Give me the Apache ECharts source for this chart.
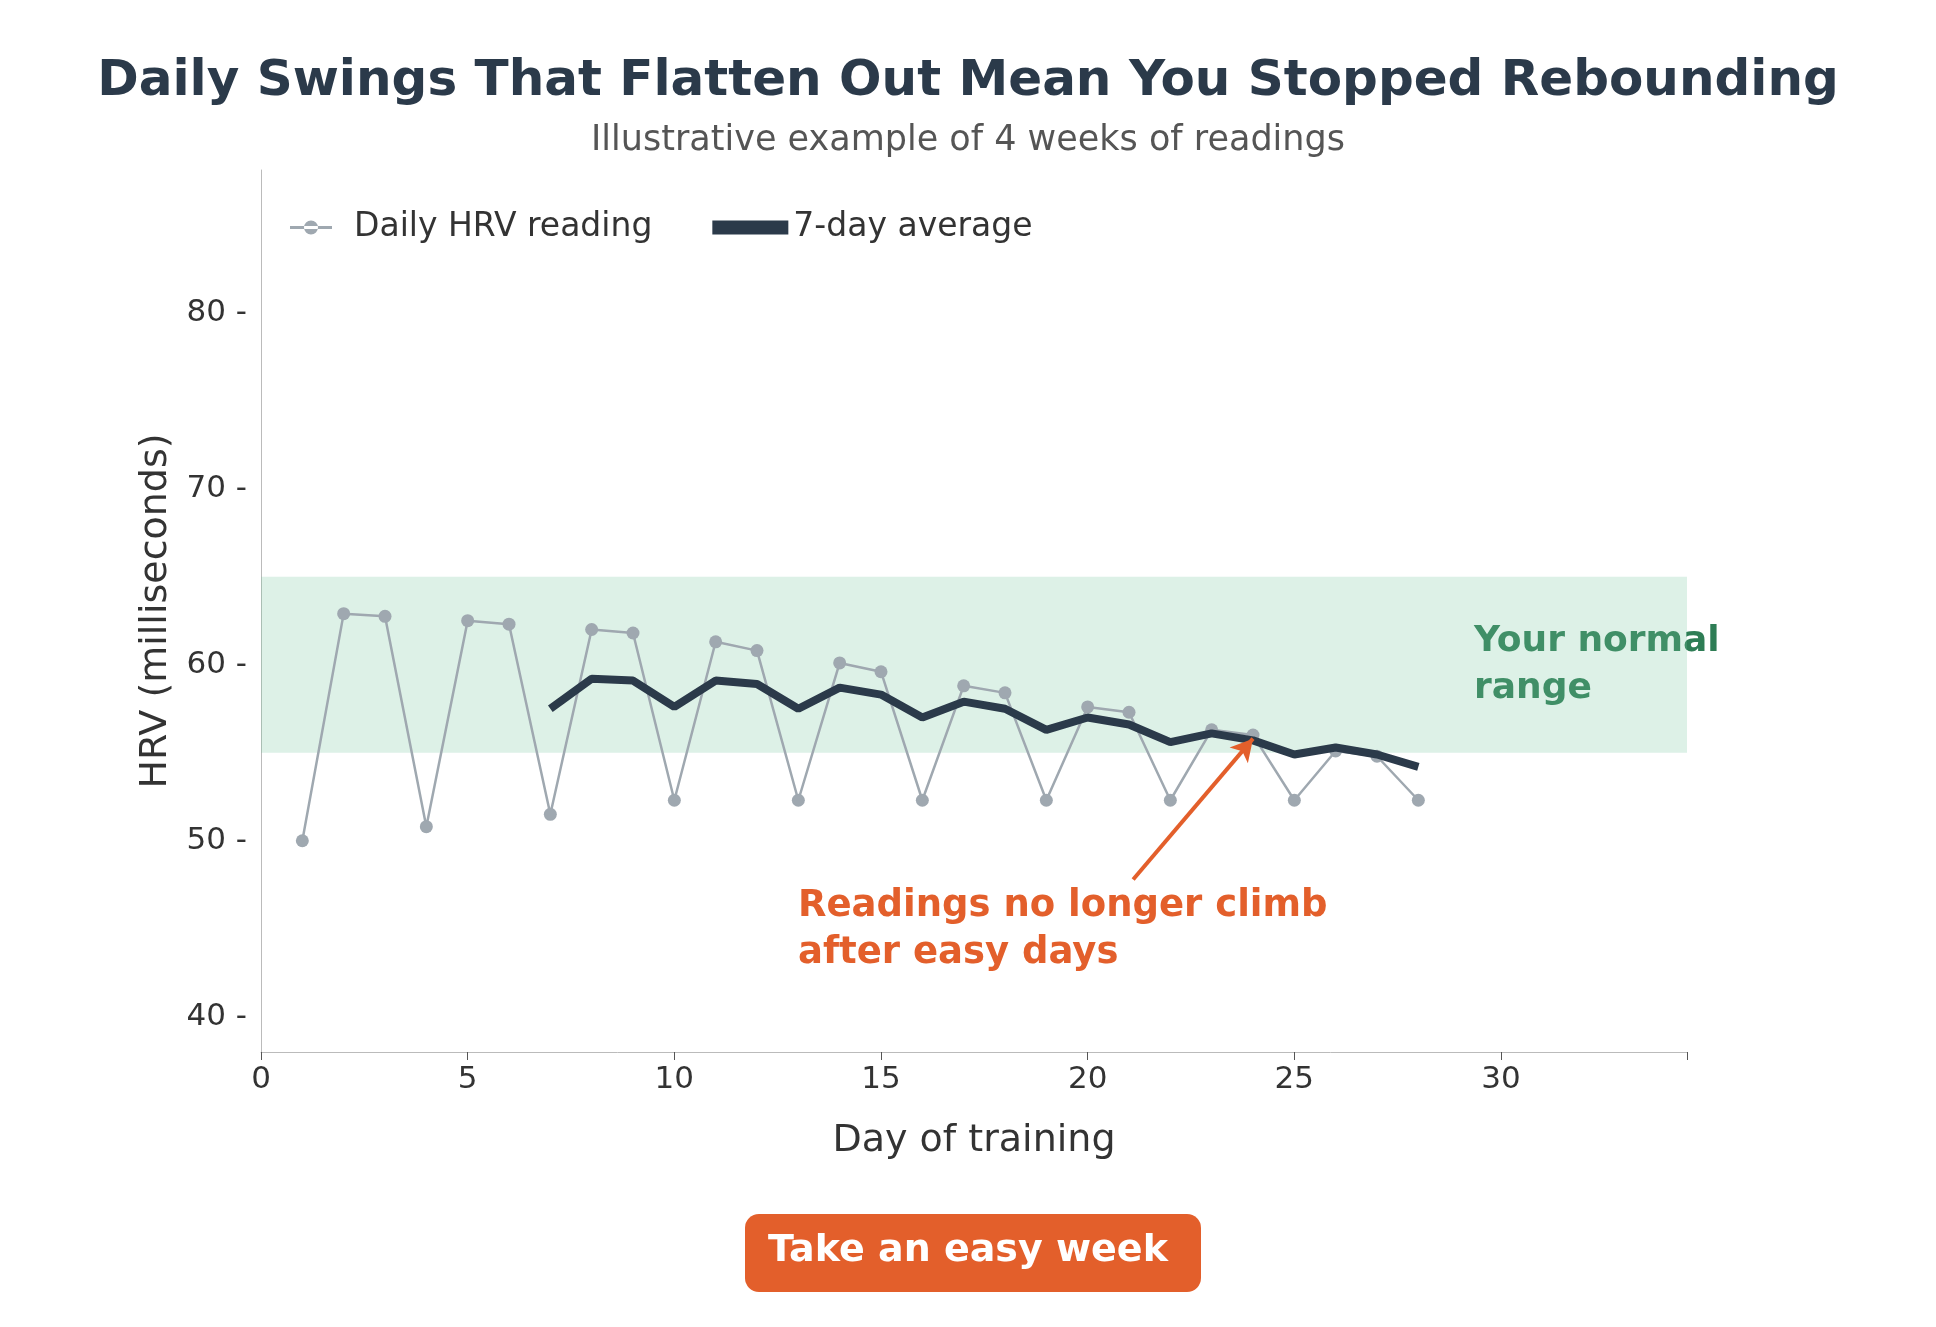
<!DOCTYPE html>
<html><head><meta charset="utf-8">
<script src="https://cdn.jsdelivr.net/npm/echarts@6/dist/echarts.min.js"></script>
<style>html,body{margin:0;background:#fff}#c{width:1936px;height:1327px}</style>
</head><body><div id="c"></div>
<script>
const days = [1,2,3,4,5,6,7,8,9,10,11,12,13,14,15,16,17,18,19,20,21,22,23,24,25,26,27,28];
const daily = [50.0,62.9,62.75,50.8,62.5,62.3,51.5,62.0,61.8,52.3,61.3,60.8,52.3,60.1,59.6,52.3,58.8,58.4,52.3,57.6,57.3,52.3,56.3,56.0,52.3,55.1,54.8,52.3];
const avgDays = [7,8,9,10,11,12,13,14,15,16,17,18,19,20,21,22,23,24,25,26,27,28];
const avg7 = [57.5,59.2,59.1,57.6,59.1,58.9,57.5,58.7,58.3,57.0,57.9,57.5,56.3,57.0,56.6,55.6,56.1,55.7,54.9,55.3,54.9,54.2];
const normalRange = [55, 65];
const F = 'DejaVu Sans';
const chart = echarts.init(document.getElementById('c'));
chart.setOption({
  animation:false,
  title:[{text:'Daily Swings That Flatten Out Mean You Stopped Rebounding',left:'center',top:52,textStyle:{fontFamily:F,fontSize:50,fontWeight:'bold',color:'#2b3a4a'}},
         {text:'Illustrative example of 4 weeks of readings',left:'center',top:118,textStyle:{fontFamily:F,fontSize:35,fontWeight:'normal',color:'#555'}}],
  legend:{left:285,top:206,itemGap:60,itemWidth:76,itemHeight:14,textStyle:{fontFamily:F,fontSize:33,color:'#333'},
    data:[{name:'Daily HRV reading',icon:'path://M0,6h30v2h-30z M15,7m-5,0a5,5 0 1,0 10,0a5,5 0 1,0 -10,0'},{name:'7-day average',icon:'rect'}]},
  grid:{left:261,right:249,top:170,bottom:275},
  xAxis:{type:'value',min:0,max:34.5,interval:5,name:'Day of training',nameLocation:'middle',nameGap:70,
    nameTextStyle:{fontFamily:F,fontSize:38,color:'#333'},
    axisLine:{lineStyle:{color:'#bbb'}},axisTick:{lineStyle:{color:'#555'},length:8},splitLine:{show:false},
    axisLabel:{fontFamily:F,fontSize:31,color:'#333',margin:12,formatter:v=>v%5===0&&v<=30?v:''}},
  yAxis:{type:'value',min:38,max:88.1,interval:2,name:'HRV (milliseconds)',nameLocation:'middle',nameGap:75,
    nameTextStyle:{fontFamily:F,fontSize:38,color:'#333'},
    axisLine:{show:true,lineStyle:{color:'#bbb'}},axisTick:{show:false},splitLine:{show:false},
    axisLabel:{fontFamily:F,fontSize:31,color:'#333',margin:14,formatter:v=>(v%10===0&&v>=40&&v<=80)?v+' -':''}},
  series:[
    {name:'Daily HRV reading',type:'line',data:days.map((d,i)=>[d,daily[i]]),symbol:'circle',symbolSize:13,
     lineStyle:{color:'#9fa8b0',width:2.5},itemStyle:{color:'#9fa8b0'},z:2,
     markArea:{silent:true,itemStyle:{color:'rgba(120,200,160,0.25)'},data:[[{yAxis:normalRange[0]},{yAxis:normalRange[1]}]]}},
    {name:'7-day average',type:'line',data:avgDays.map((d,i)=>[d,avg7[i]]),symbol:'none',
     lineStyle:{color:'#2b3a4a',width:8},itemStyle:{color:'#2b3a4a'},z:3,
     markLine:{silent:true,symbol:['none','arrow'],symbolSize:[18,22],label:{show:false},
       lineStyle:{color:'#e35f2b',width:4,type:'solid'},data:[[{coord:[21.1,47.8]},{coord:[24.0,55.8]}]]}}
  ],
  graphic:[
    {type:'text',left:1474,top:618,style:{text:'Your normal\nrange',fontFamily:F,fontSize:36,fontWeight:'bold',fill:'#2e7d55',lineHeight:47}},
    {type:'text',left:798,top:883,style:{text:'Readings no longer climb\nafter easy days',fontFamily:F,fontSize:37,fontWeight:'bold',fill:'#e35f2b',lineHeight:47}},
    {type:'rect',left:745,top:1214,shape:{width:456,height:78,r:14},style:{fill:'#e35f2b'}},
    {type:'text',left:'center',top:1232,style:{text:'Take an easy week',fontFamily:F,fontSize:38,fontWeight:'bold',fill:'#fff'}}
  ]
});
</script></body></html>
